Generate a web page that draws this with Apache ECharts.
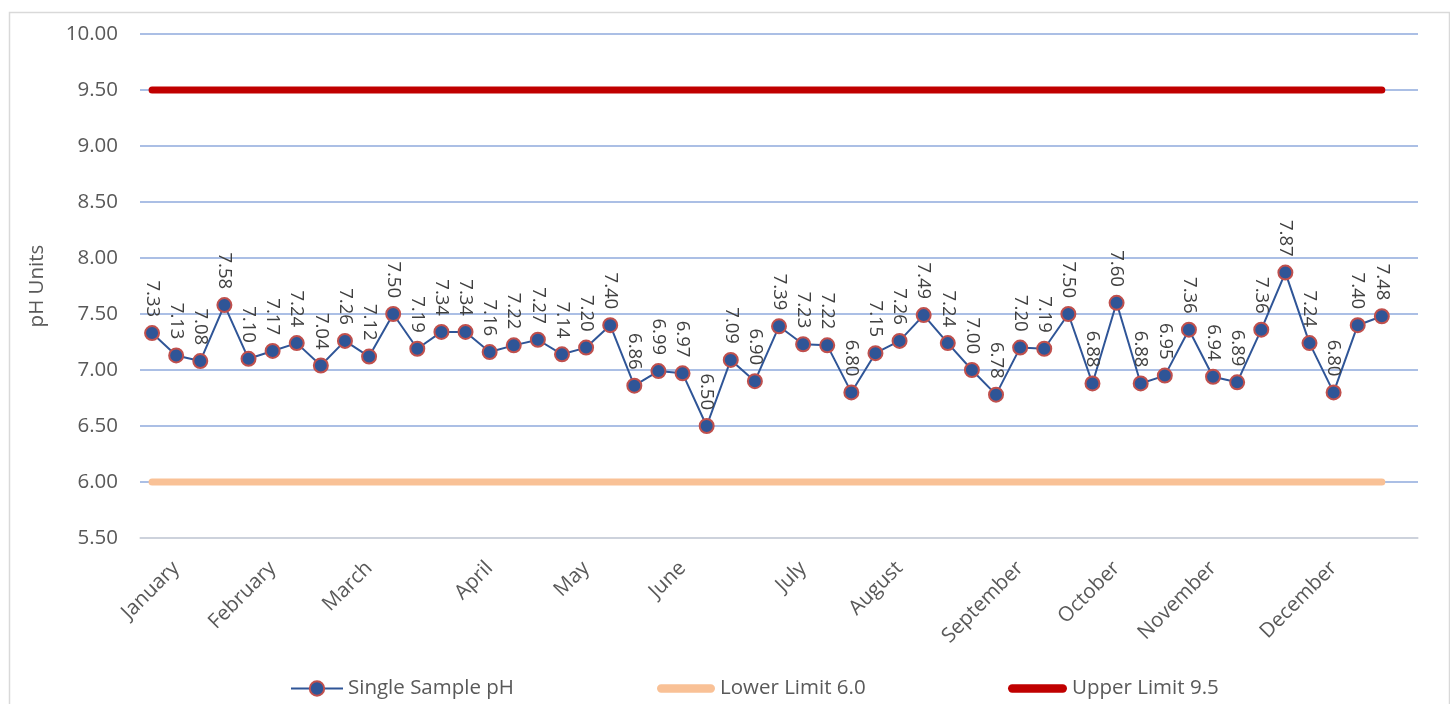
<!DOCTYPE html>
<html>
<head>
<meta charset="utf-8">
<script src="https://cdn.jsdelivr.net/npm/echarts@6/dist/echarts.min.js"></script>
<style>
html,body{margin:0;padding:0;background:#fff;}
#chart{width:1450px;height:704px;}
</style>
</head>
<body>
<div id="chart"></div>
<script>
// ---- data ----
const phValues = [7.33, 7.13, 7.08, 7.58, 7.10, 7.17, 7.24, 7.04, 7.26, 7.12, 7.50, 7.19, 7.34, 7.34, 7.16, 7.22, 7.27, 7.14, 7.20, 7.40,
  6.86, 6.99, 6.97, 6.50, 7.09, 6.90, 7.39, 7.23, 7.22, 6.80, 7.15, 7.26, 7.49, 7.24, 7.00, 6.78, 7.20, 7.19, 7.50, 6.88,
  7.60, 6.88, 6.95, 7.36, 6.94, 6.89, 7.36, 7.87, 7.24, 6.80, 7.40, 7.48];
const monthLabels = ['January', 'February', 'March', 'April', 'May', 'June', 'July', 'August', 'September', 'October', 'November', 'December'];
const monthPositions = [1, 5, 9, 14, 18, 22, 27, 31, 36, 40, 44, 49];
const categoryCount = 53;
const lowerLimit = 6.0;
const upperLimit = 9.5;
const yTicks = { min: 5.5, max: 10, interval: 0.5 };
const seriesNames = ['Single Sample pH', 'Lower Limit 6.0', 'Upper Limit 9.5'];

// ---- build ----
const categories = [];
for (let i = 0; i < categoryCount; i++) categories.push('');
monthPositions.forEach((p, i) => { categories[p] = monthLabels[i]; });
const lowerData = phValues.map(() => lowerLimit);
const upperData = phValues.map(() => upperLimit);

const FONT = 'Open Sans';
const BAR_ICON = 'path://M4,0 H52 A4,4 0 0 1 52,8 H4 A4,4 0 0 1 4,0 Z';
const legendText = { fontFamily: FONT, fontSize: 20.5, color: '#595959' };
function legendAt(left, width, item) {
  return {
    left: left, top: 678, padding: 0,
    itemWidth: width, itemHeight: 18, itemGap: 0,
    textStyle: legendText,
    data: [item]
  };
}
const chart = echarts.init(document.getElementById('chart'), null, { renderer: 'canvas' });
chart.setOption({
  animation: false,
  backgroundColor: '#ffffff',
  textStyle: { fontFamily: FONT },
  graphic: [{
    type: 'rect', left: 7, top: 10,
    shape: { width: 1440, height: 710 },
    style: { fill: 'none', stroke: '#d9d9d9', lineWidth: 1.5 },
    silent: true
  }],
  grid: { left: 140, right: 32, top: 34, bottom: 166, containLabel: false },
  legend: [
    legendAt(290, 52, { name: seriesNames[0] }),
    legendAt(657, 58, { name: seriesNames[1], icon: BAR_ICON, itemStyle: { color: '#F9C196' } }),
    legendAt(1008, 59, { name: seriesNames[2], icon: BAR_ICON, itemStyle: { color: '#C00000' } })
  ],
  xAxis: {
    type: 'category',
    data: categories,
    boundaryGap: true,
    axisTick: { show: false },
    axisLine: { lineStyle: { color: '#d9d9d9', width: 1.5 } },
    axisLabel: { interval: 0, rotate: 45, margin: 27, fontFamily: FONT, fontSize: 20.5, color: '#595959' },
    splitLine: { show: false }
  },
  yAxis: {
    type: 'value',
    min: yTicks.min, max: yTicks.max, interval: yTicks.interval,
    name: 'pH Units',
    nameLocation: 'middle',
    nameGap: 92,
    nameRotate: 90,
    nameTextStyle: { fontFamily: FONT, fontSize: 20.5, color: '#595959' },
    axisLine: { show: false },
    axisTick: { show: false },
    axisLabel: { margin: 22, fontFamily: FONT, fontSize: 20.5, color: '#595959', formatter: v => v.toFixed(2) },
    splitLine: { lineStyle: { color: '#8FAADC', width: 1.5 } }
  },
  series: [
    {
      name: seriesNames[0],
      type: 'line',
      data: phValues,
      symbol: 'circle',
      symbolSize: 14,
      lineStyle: { color: '#2F5597', width: 2 },
      itemStyle: { color: '#2F5597', borderColor: '#C0504D', borderWidth: 2 },
      label: {
        show: true, position: 'top', rotate: -90, align: 'right', verticalAlign: 'middle',
        distance: 8, fontFamily: FONT, fontSize: 18.5, color: '#404040',
        formatter: p => p.value.toFixed(2)
      },
      z: 3
    },
    {
      name: seriesNames[1],
      type: 'line',
      data: lowerData,
      symbol: 'none',
      lineStyle: { color: '#F9C196', width: 7, cap: 'round' },
      itemStyle: { color: '#F9C196' },
      z: 2
    },
    {
      name: seriesNames[2],
      type: 'line',
      data: upperData,
      symbol: 'none',
      lineStyle: { color: '#C00000', width: 7, cap: 'round' },
      itemStyle: { color: '#C00000' },
      z: 2
    }
  ]
});
</script>
</body>
</html>
